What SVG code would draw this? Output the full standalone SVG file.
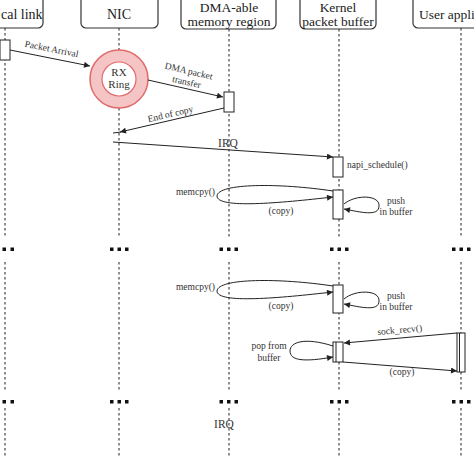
<svg xmlns="http://www.w3.org/2000/svg" width="474" height="474" viewBox="0 0 474 474">
<defs>
<marker id="ah" viewBox="0 0 10 10" refX="10" refY="5" markerWidth="8" markerHeight="6" markerUnits="userSpaceOnUse" orient="auto">
<path d="M0,0 L10,5 L0,10 Z" fill="#222"/>
</marker>
</defs>
<style>
.hdr{fill:#fff;stroke:#333;stroke-width:1.2}
.ht{font-family:"Liberation Serif",serif;font-size:14px;fill:#222;text-anchor:middle}
.lbl{font-family:"Liberation Serif",serif;font-size:9.5px;fill:#333}
.mid{text-anchor:middle}
.life{stroke:#333;stroke-width:1.1;stroke-dasharray:2.5,2.5;fill:none}
.msg{stroke:#222;stroke-width:1;fill:none}
.act{fill:#fff;stroke:#222;stroke-width:1}
.dot{fill:#111}
</style>
<rect width="474" height="474" fill="#fff"/>

<g id="lifelines">
<g id="lane-physical">
<rect class="hdr" x="-40" y="-6" width="83" height="34" rx="5"/>
<text class="ht" x="1" y="19" style="text-anchor:start">cal link</text>
<path class="life" d="M5,28 V237 M5,262 V392 M5,408 V457"/>
</g>
<g id="lane-nic">
<rect class="hdr" x="81" y="-6" width="77" height="34" rx="5"/>
<text class="ht" x="119" y="19">NIC</text>
<path class="life" d="M119,28 V237 M119,262 V392 M119,408 V457"/>
</g>
<g id="lane-dma">
<rect class="hdr" x="181" y="-6" width="95" height="35" rx="5"/>
<text class="ht" x="229" y="12" style="font-size:13.5px">DMA-able</text>
<text class="ht" x="229" y="25.5" style="font-size:13.5px">memory region</text>
<path class="life" d="M229,29 V237 M229,262 V392 M229,408 V457"/>
</g>
<g id="lane-kernel">
<rect class="hdr" x="300" y="-6" width="76" height="35" rx="5"/>
<text class="ht" x="338" y="12" style="font-size:13.5px">Kernel</text>
<text class="ht" x="338" y="25.5" style="font-size:13.5px">packet buffer</text>
<path class="life" d="M339,29 V237 M339,262 V392 M339,408 V457"/>
</g>
<g id="lane-user">
<rect class="hdr" x="413" y="-6" width="80" height="34" rx="5"/>
<text class="ht" x="419" y="19" style="text-anchor:start;font-size:13.5px">User appli</text>
<path class="life" d="M461,28 V237 M461,262 V392 M461,408 V457"/>
</g>
</g>

<g id="dots">
<rect class="dot" x="2.5" y="247.5" width="3.5" height="3.5"/>
<rect class="dot" x="10.5" y="247.5" width="3.5" height="3.5"/>
<rect class="dot" x="110" y="247.5" width="3.5" height="3.5"/>
<rect class="dot" x="117.5" y="247.5" width="3.5" height="3.5"/>
<rect class="dot" x="125" y="247.5" width="3.5" height="3.5"/>
<rect class="dot" x="219.5" y="247.5" width="3.5" height="3.5"/>
<rect class="dot" x="227" y="247.5" width="3.5" height="3.5"/>
<rect class="dot" x="234.5" y="247.5" width="3.5" height="3.5"/>
<rect class="dot" x="330" y="247.5" width="3.5" height="3.5"/>
<rect class="dot" x="337.5" y="247.5" width="3.5" height="3.5"/>
<rect class="dot" x="345" y="247.5" width="3.5" height="3.5"/>
<rect class="dot" x="452" y="247.5" width="3.5" height="3.5"/>
<rect class="dot" x="459.5" y="247.5" width="3.5" height="3.5"/>
<rect class="dot" x="467" y="247.5" width="3.5" height="3.5"/>

<rect class="dot" x="2.5" y="400" width="3.5" height="3.5"/>
<rect class="dot" x="10.5" y="400" width="3.5" height="3.5"/>
<rect class="dot" x="110" y="400" width="3.5" height="3.5"/>
<rect class="dot" x="117.5" y="400" width="3.5" height="3.5"/>
<rect class="dot" x="125" y="400" width="3.5" height="3.5"/>
<rect class="dot" x="219.5" y="400" width="3.5" height="3.5"/>
<rect class="dot" x="227" y="400" width="3.5" height="3.5"/>
<rect class="dot" x="234.5" y="400" width="3.5" height="3.5"/>
<rect class="dot" x="330" y="400" width="3.5" height="3.5"/>
<rect class="dot" x="337.5" y="400" width="3.5" height="3.5"/>
<rect class="dot" x="345" y="400" width="3.5" height="3.5"/>
<rect class="dot" x="452" y="400" width="3.5" height="3.5"/>
<rect class="dot" x="459.5" y="400" width="3.5" height="3.5"/>
<rect class="dot" x="467" y="400" width="3.5" height="3.5"/>
</g>

<g id="rx-ring">
<circle cx="119" cy="79" r="29" fill="#f5c4c4" stroke="#e06a6a" stroke-width="1.5"/>
<circle cx="119" cy="79" r="17" fill="#fff" stroke="#e06a6a" stroke-width="1.2"/>
<text class="lbl mid" x="119" y="75.5" style="font-size:11px">RX</text>
<text class="lbl mid" x="119" y="88" style="font-size:11px">Ring</text>
</g>

<g id="activations">
<rect class="act" x="0" y="40" width="10" height="20"/>
<rect class="act" x="224" y="92" width="10" height="20"/>
<rect class="act" x="333" y="157" width="10" height="20"/>
<rect class="act" x="333" y="190" width="10" height="29"/>
<rect class="act" x="333" y="285" width="10" height="28"/>
<rect class="act" x="333" y="342" width="10" height="20"/>
<line class="msg" x1="336" y1="342" x2="336" y2="362"/>
<rect class="act" x="457" y="333" width="8" height="39"/>
<line class="msg" x1="459.5" y1="333" x2="459.5" y2="372"/>
</g>

<g id="connectors">
<line class="msg" x1="10" y1="50" x2="90" y2="66" marker-end="url(#ah)"/>
<line class="msg" x1="148" y1="80" x2="223" y2="97" marker-end="url(#ah)"/>
<line class="msg" x1="224" y1="108" x2="120" y2="132" marker-end="url(#ah)"/>
<line class="msg" x1="113" y1="133" x2="121" y2="132"/>
<line class="msg" x1="113" y1="142" x2="333" y2="157" marker-end="url(#ah)"/>
<path class="msg" d="M333,191 C280,183 218,183 217,196 C217,209 280,203 333,197" marker-end="url(#ah)"/>
<path class="msg" d="M344,204 C356,194 380,195 379,206 C379,217 360,212 344,209" marker-end="url(#ah)"/>
<path class="msg" d="M333,286 C280,278 218,278 217,291 C217,304 280,298 333,292" marker-end="url(#ah)"/>
<path class="msg" d="M344,299 C356,289 380,290 379,301 C379,312 360,307 344,304" marker-end="url(#ah)"/>
<line class="msg" x1="457" y1="333" x2="344" y2="343" marker-end="url(#ah)"/>
<path class="msg" d="M333,346 C305,337 290,342 290,351 C290,361 305,362 333,357" marker-end="url(#ah)"/>
<line class="msg" x1="343" y1="362" x2="457" y2="371" marker-end="url(#ah)"/>
</g>

<g id="labels">
<text class="lbl mid" x="51" y="52" transform="rotate(11.3 51 52)">Packet Arrival</text>
<text class="lbl mid" x="188" y="74" transform="rotate(13 188 74)">DMA packet</text>
<text class="lbl mid" x="186" y="85" transform="rotate(13 186 85)">transfer</text>
<text class="lbl mid" x="171" y="117" transform="rotate(-13 171 117)">End of copy</text>
<text class="lbl mid" x="228" y="147" style="font-size:11.5px">IRQ</text>
<text class="lbl" x="347" y="168">napi_schedule()</text>
<text class="lbl" x="215" y="195" style="text-anchor:end">memcpy()</text>
<text class="lbl mid" x="281" y="214">(copy)</text>
<text class="lbl mid" x="396" y="204">push</text>
<text class="lbl mid" x="396" y="215">in buffer</text>
<text class="lbl" x="215" y="290" style="text-anchor:end">memcpy()</text>
<text class="lbl mid" x="281" y="309">(copy)</text>
<text class="lbl mid" x="396" y="299">push</text>
<text class="lbl mid" x="396" y="310">in buffer</text>
<text class="lbl mid" x="400" y="333" transform="rotate(-5 400 333)">sock_recv()</text>
<text class="lbl mid" x="269" y="349">pop from</text>
<text class="lbl mid" x="269" y="361">buffer</text>
<text class="lbl mid" x="402" y="375">(copy)</text>
<text class="lbl mid" x="224" y="428" style="font-size:11.5px">IRQ</text>
</g>
</svg>
